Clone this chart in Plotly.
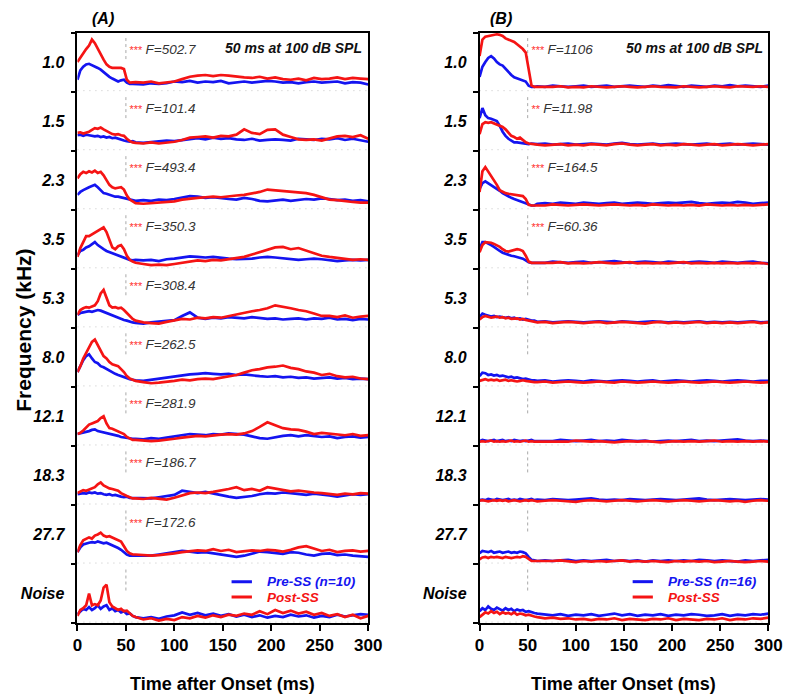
import plotly.graph_objects as go

# ---------------- data ----------------
TIME = [0, 3, 6, 9, 12, 15, 18, 21, 24, 27, 30, 33, 36, 39, 42, 45, 48, 51, 54, 57,
        60, 68, 76, 84, 92, 100, 108, 116, 124, 132, 140, 148, 156, 164, 172, 180,
        188, 196, 204, 212, 220, 228, 236, 244, 252, 260, 268, 276, 284, 292, 300]

ROW_LABELS = ["1.0", "1.5", "2.3", "3.5", "5.3", "8.0", "12.1", "18.3", "27.7", "Noise"]
X_TICKS = [0, 50, 100, 150, 200, 250, 300]

F_A = ["502.7", "101.4", "493.4", "350.3", "308.4", "262.5", "281.9", "186.7", "172.6"]
STARS_A = ["***", "***", "***", "***", "***", "***", "***", "***", "***"]
F_B = ["1106", "11.98", "164.5", "60.36"]
STARS_B = ["***", "**", "***", "***"]

# normalised response (percent of one row height), panel A (n=10)
A_PRE_1 = [20,36,42,46,47,45,42,40,37,33,28,25,22,20,17,19,20,15,13,13,
           13,12,14,13,14,17,16,18,15,17,16,18,14,16,17,15,16,18,17,15,16,14,16,17,15,16,17,14,16,15,12]
A_POST_1 = [50,58,66,72,78,88,82,72,64,54,46,42,40,40,39,40,38,20,15,16,
            16,15,17,14,15,17,21,25,27,28,26,28,27,25,24,23,25,22,24,21,20,22,19,23,21,22,24,21,23,22,21]
A_PRE_2 = [26,27,25,27,26,25,24,25,23,24,22,23,21,22,20,19,17,16,15,16,
           14,13,14,15,17,16,18,20,21,19,22,20,21,19,18,20,17,18,19,18,17,20,19,18,20,19,21,18,20,17,15]
A_POST_2 = [30,31,29,30,32,35,38,37,39,36,33,30,28,27,28,26,25,20,16,14,
            13,12,14,12,13,15,18,22,23,24,22,25,24,27,36,30,28,35,36,27,23,19,18,19,17,21,24,25,23,26,20]
A_PRE_3 = [25,30,33,36,38,40,42,38,32,28,27,25,23,22,22,21,20,19,17,16,
           15,16,15,17,16,18,20,23,22,20,21,19,18,17,20,18,15,14,16,17,15,16,18,17,19,18,16,17,15,16,14]
A_POST_3 = [53,60,64,62,65,63,66,62,64,58,50,42,38,36,37,38,34,24,17,14,
            11,10,11,12,13,14,17,19,20,21,22,21,23,24,25,27,30,34,33,32,31,30,28,25,21,17,16,14,13,12,12]
A_PRE_4 = [23,30,32,36,38,42,45,40,36,33,30,28,26,25,22,20,18,16,15,14,
           15,14,15,13,16,17,19,21,20,19,20,18,17,16,16,17,19,20,19,18,16,15,16,17,16,15,13,14,15,14,15]
A_POST_4 = [20,35,45,55,55,58,62,65,68,70,62,50,36,33,38,40,33,22,15,12,
            10,8,6,7,6,8,10,12,14,13,15,14,16,17,20,24,28,33,36,37,33,35,31,27,22,20,18,17,15,16,15]
A_PRE_5 = [22,25,26,27,28,27,29,30,29,27,25,22,20,18,17,15,13,12,10,9,
           8,7,9,10,12,13,20,26,17,15,17,16,18,17,16,18,17,15,16,14,15,16,14,16,15,17,14,15,13,15,14]
A_POST_5 = [22,30,33,35,34,36,38,45,58,64,50,38,34,35,33,34,30,25,20,15,
            12,9,8,7,10,12,15,14,17,16,18,17,20,22,25,28,30,33,38,36,33,30,28,24,20,20,18,21,17,19,20]
A_PRE_6 = [25,35,45,52,55,48,42,40,35,33,30,28,25,22,20,18,16,15,13,12,
           11,10,12,14,15,17,19,21,22,23,22,21,22,20,21,19,18,17,18,16,17,15,16,14,15,16,14,15,13,14,13]
A_POST_6 = [25,35,48,58,68,76,80,70,60,52,48,42,38,36,35,30,25,18,14,12,
            10,8,6,7,8,10,12,11,13,14,13,15,17,20,24,28,30,33,34,36,32,30,26,24,20,22,18,16,17,14,13]
A_PRE_7 = [20,21,22,24,25,27,28,25,24,23,22,20,19,18,17,15,14,13,12,12,
           12,11,13,12,14,16,18,20,19,18,20,19,21,20,19,16,13,12,15,17,18,16,18,17,15,16,13,15,16,14,15]
A_POST_7 = [20,22,26,32,36,38,40,42,47,50,38,30,29,27,25,22,20,15,12,10,
            10,9,8,9,10,12,14,15,17,16,18,19,20,19,21,25,32,40,35,30,28,27,24,20,22,21,20,18,20,17,18]
A_PRE_8 = [18,19,20,19,21,20,21,19,20,18,17,18,16,17,15,14,13,14,12,12,
           11,12,11,13,15,17,24,22,20,22,19,16,14,12,13,15,18,20,19,21,20,18,17,19,18,16,14,16,18,17,18]
A_POST_8 = [20,23,25,24,26,28,30,35,38,33,30,28,27,25,24,20,17,15,13,11,
            11,10,12,11,9,12,16,20,21,20,22,24,27,30,25,27,24,30,28,26,23,24,22,21,20,18,17,19,18,20,19]
A_PRE_9 = [20,28,33,35,36,37,36,38,37,35,36,34,32,30,27,24,20,16,14,14,
           14,15,14,16,18,20,22,21,19,20,18,16,14,12,14,18,21,20,18,17,20,19,16,14,17,18,15,16,14,13,12]
A_POST_9 = [20,32,40,42,45,43,48,50,53,48,46,47,45,43,40,38,30,22,18,16,
            16,15,14,15,16,18,20,21,23,22,25,22,24,20,21,23,22,24,23,21,24,28,30,26,22,24,20,22,23,21,22]
A_PRE_10 = [15,20,24,22,27,22,25,30,24,28,30,22,25,20,22,18,20,15,16,12,
            10,8,10,7,11,13,18,14,17,13,16,12,15,11,14,10,13,9,12,10,14,11,13,9,12,10,14,11,13,15,14]
A_POST_10 = [12,22,25,30,50,30,32,30,38,60,65,35,28,25,22,24,20,21,16,12,
             10,6,8,4,7,5,10,8,12,9,13,10,14,12,16,14,20,15,22,17,21,16,19,14,17,12,15,10,14,8,12]

# panel B (n=16)
B_PRE_1 = [25,42,50,57,60,56,50,46,44,38,32,28,24,22,20,18,17,10,8,8,
           9,8,10,9,8,9,10,8,9,10,8,9,10,9,8,10,9,11,9,8,10,9,8,10,9,11,9,10,9,8,10]
B_POST_1 = [60,88,93,94,96,97,97,96,94,90,88,86,84,80,76,72,66,35,10,8,
            8,7,8,9,7,8,7,9,8,7,8,9,8,7,8,9,8,8,7,9,8,7,8,9,8,7,9,8,8,9,8]
B_PRE_2 = [55,72,60,55,54,52,50,42,32,25,20,17,14,14,13,12,12,11,12,11,
           11,12,10,11,12,10,11,12,11,10,12,13,11,10,11,12,10,11,12,11,10,11,12,10,11,12,10,11,12,11,10]
B_POST_2 = [28,45,48,47,48,46,45,42,40,36,30,25,23,20,22,18,14,12,11,10,
            10,9,10,11,9,10,9,11,10,9,11,12,10,9,10,11,9,10,9,11,10,9,10,11,9,10,11,10,9,10,11]
B_PRE_3 = [35,45,48,45,42,38,36,32,28,25,22,20,18,16,14,13,10,8,7,7,
           10,11,10,12,11,10,12,11,10,11,12,10,11,12,11,10,11,12,11,12,13,11,10,11,12,11,13,12,10,11,12]
B_POST_3 = [30,65,72,65,58,50,42,33,30,28,27,26,25,24,24,23,18,8,7,7,
            8,7,9,8,7,8,9,8,7,8,9,8,7,8,7,9,8,7,8,7,8,7,9,8,7,8,7,8,7,8,9]
B_PRE_4 = [33,45,45,43,40,37,33,30,27,25,23,22,21,20,18,17,14,11,10,10,
           11,10,12,11,10,11,12,10,11,12,13,11,10,11,12,11,10,12,11,10,11,12,11,10,12,11,10,11,12,10,9]
B_POST_4 = [28,40,45,45,44,42,40,37,33,30,29,30,32,33,32,30,22,12,10,10,
            10,9,10,11,9,10,9,10,11,10,9,10,11,9,10,9,10,9,10,11,9,10,9,10,9,10,9,10,9,10,8]
B_PRE_5 = [18,24,22,20,19,20,18,19,18,17,18,16,17,15,16,14,15,13,12,12,
           10,11,9,10,11,10,9,10,11,10,9,11,10,9,10,11,10,9,10,9,10,11,9,10,9,10,9,10,11,9,10]
B_POST_5 = [14,18,20,19,17,18,19,17,18,16,17,15,16,16,14,15,13,12,11,10,
            9,10,8,9,10,9,8,9,10,8,9,10,9,8,7,9,10,8,9,8,9,10,8,9,8,9,8,9,10,8,9]
B_PRE_6 = [18,24,23,20,21,19,20,18,19,17,16,17,15,16,14,13,14,12,11,11,
           10,11,9,10,11,10,9,11,10,9,10,11,10,9,10,11,9,10,11,10,9,10,11,10,9,10,11,10,9,10,10]
B_POST_6 = [10,12,13,11,12,11,12,10,11,12,10,11,10,9,10,11,10,9,9,8,
            8,9,7,8,9,8,7,8,9,8,7,9,8,7,8,9,8,7,8,9,8,7,8,9,8,7,8,9,8,7,8]
B_PRE_7 = [8,10,9,8,9,10,8,9,10,8,9,8,10,9,8,9,8,9,10,8,
           8,9,8,10,9,8,9,10,8,9,8,10,9,8,9,7,8,9,8,9,10,8,9,8,9,10,11,9,8,9,8]
B_POST_7 = [7,8,7,8,9,7,8,7,8,7,8,9,7,8,7,8,9,7,8,7,
            7,8,7,8,7,9,8,7,8,7,6,7,8,7,8,7,6,7,8,7,8,7,8,9,7,8,7,8,7,8,7]
B_PRE_8 = [8,9,8,10,9,8,10,9,8,9,10,8,9,8,10,9,8,9,10,8,
           9,8,10,9,8,9,10,11,9,8,9,8,10,9,8,9,10,9,8,9,10,11,9,8,9,10,9,8,9,10,9]
B_POST_8 = [7,8,7,6,7,8,7,8,7,8,6,7,8,7,6,7,8,7,8,7,
            6,7,8,7,6,5,7,8,7,6,7,8,7,6,7,8,7,6,7,8,7,6,7,8,7,6,7,5,7,8,7]
B_PRE_9 = [18,22,21,20,22,19,20,21,19,20,21,19,20,19,21,20,18,12,7,6,
           5,6,5,6,7,5,6,5,6,7,5,6,5,6,4,6,5,6,5,6,5,7,6,5,6,5,4,6,5,6,7]
B_POST_9 = [8,11,12,10,12,11,12,11,10,12,11,10,11,12,11,13,12,8,5,5,
            5,4,5,6,4,3,5,4,5,4,5,6,4,5,4,5,4,3,5,4,5,4,5,3,4,5,4,3,4,5,4]
B_PRE_10 = [20,25,22,28,24,22,26,23,21,25,22,24,20,23,21,22,19,20,18,17,
            16,14,13,15,12,14,13,15,12,14,16,13,15,12,14,13,15,12,14,13,15,14,12,13,15,12,14,13,15,14,16]
B_POST_10 = [10,14,18,16,20,17,19,15,18,16,17,15,18,14,16,15,13,14,12,11,
             10,8,9,7,8,6,7,5,7,6,8,5,7,6,5,7,6,8,5,7,6,5,7,6,8,5,7,6,8,7,9]

A_PRE = [A_PRE_1, A_PRE_2, A_PRE_3, A_PRE_4, A_PRE_5, A_PRE_6, A_PRE_7, A_PRE_8, A_PRE_9, A_PRE_10]
A_POST = [A_POST_1, A_POST_2, A_POST_3, A_POST_4, A_POST_5, A_POST_6, A_POST_7, A_POST_8, A_POST_9, A_POST_10]
B_PRE = [B_PRE_1, B_PRE_2, B_PRE_3, B_PRE_4, B_PRE_5, B_PRE_6, B_PRE_7, B_PRE_8, B_PRE_9, B_PRE_10]
B_POST = [B_POST_1, B_POST_2, B_POST_3, B_POST_4, B_POST_5, B_POST_6, B_POST_7, B_POST_8, B_POST_9, B_POST_10]

# ---------------- style / layout ----------------
BLUE = "#1414f0"
RED = "#f51414"
ARIAL = "Liberation Sans, Arial, sans-serif"
NROW = len(ROW_LABELS)

# the page has an 8px body margin: figure is 792x691 drawn at (8, 8)
W, H, M = 792, 691, 8


def px(x):
    return (x - M) / W


def py(y):
    return 1 - (y - M) / H


fig = go.Figure()

panels = [("x", "y", A_PRE, A_POST, F_A, STARS_A, "Pre-SS (n=10)"),
          ("x2", "y2", B_PRE, B_POST, F_B, STARS_B, "Pre-SS (n=16)")]

shapes = []
annotations = []

for xa, ya, pre, post, fvals, stars, pre_name in panels:
    for k in range(NROW):
        off = NROW - 1 - k
        fig.add_trace(go.Scatter(x=TIME, y=[off + v / 100 for v in pre[k]], mode="lines",
                                 line=dict(color=BLUE, width=2.7), xaxis=xa, yaxis=ya,
                                 showlegend=False, hoverinfo="skip"))
        fig.add_trace(go.Scatter(x=TIME, y=[off + v / 100 for v in post[k]], mode="lines",
                                 line=dict(color=RED, width=2.7), xaxis=xa, yaxis=ya,
                                 showlegend=False, hoverinfo="skip"))
        shapes.append(dict(type="line", xref=xa, yref=ya, x0=0, x1=300, y0=off + 0.015, y1=off + 0.015,
                           line=dict(color="#c4c4c4", width=1, dash="1px,5px"), layer="below"))
        shapes.append(dict(type="line", xref=xa, yref=ya, x0=50, x1=50, y0=off + 0.55, y1=off + 0.95,
                           line=dict(color="#a8a8a8", width=1, dash="dot"), layer="below"))
    for k, (fv, st) in enumerate(zip(fvals, stars)):
        off = NROW - 1 - k
        annotations.append(dict(xref=xa, yref=ya, x=51, y=off + 0.71, xanchor="left", yanchor="middle",
                                showarrow=False,
                                text=f"<span style='color:#ff3030;font-size:11px'>{st}</span> F={fv}",
                                font=dict(family=ARIAL, size=13.5, color="#333333", style="italic")))
    annotations.append(dict(xref=xa, yref=ya, x=296, y=NROW - 0.26, xanchor="right", yanchor="middle",
                            showarrow=False, text="50 ms at 100 dB SPL",
                            font=dict(family=ARIAL, size=14, color="#111111", weight="bold", style="italic")))
    for txt, col, yy in [(pre_name, BLUE, 0.70), ("Post-SS", RED, 0.44)]:
        shapes.append(dict(type="line", xref=xa, yref=ya, x0=159, x1=180, y0=yy, y1=yy,
                           line=dict(color=col, width=3)))
        annotations.append(dict(xref=xa, yref=ya, x=194, y=yy, xanchor="left", yanchor="middle",
                                showarrow=False, text=txt,
                                font=dict(family=ARIAL, size=13.5, color=col, weight="bold", style="italic")))

xdoms = [[px(74), px(372)], [px(486), px(782)]]
ydom = [py(623), py(32.5)]

axis_common = dict(showline=True, linecolor="black", linewidth=1.6, mirror=True,
                   showgrid=False, zeroline=False)

for i, (xd, name, lx) in enumerate(zip(xdoms, ["(A)", "(B)"], [100, 508])):
    sfx = "" if i == 0 else "2"
    fig.update_layout(**{
        "xaxis" + sfx: dict(domain=xd, range=[0, 300], tickvals=X_TICKS, ticks="outside", ticklen=6,
                            tickwidth=1.5, tickcolor="black", anchor="y" + sfx,
                            tickfont=dict(family=ARIAL, size=17, color="black", weight="bold"),
                            **axis_common),
        "yaxis" + sfx: dict(domain=ydom, range=[0, NROW], anchor="x" + sfx,
                            tickvals=[NROW - 1 - k + 0.5 for k in range(NROW)], ticktext=ROW_LABELS,
                            ticks="", ticklabelstandoff=8,
                            tickfont=dict(family=ARIAL, size=16, color="black", weight="bold", style="italic"),
                            minor=dict(tickmode="linear", tick0=0, dtick=1, ticks="outside", ticklen=5,
                                       tickwidth=1.5, tickcolor="black"),
                            **axis_common),
    })
    annotations.append(dict(xref="paper", yref="paper", x=(xd[0] + xd[1]) / 2, y=py(684),
                            xanchor="center", yanchor="middle", showarrow=False,
                            text="Time after Onset (ms)",
                            font=dict(family=ARIAL, size=18, color="black", weight="bold")))
    annotations.append(dict(xref="paper", yref="paper", x=px(lx), y=py(18),
                            xanchor="center", yanchor="middle", showarrow=False, text=name,
                            font=dict(family=ARIAL, size=16, color="black", weight="bold", style="italic")))

annotations.append(dict(xref="paper", yref="paper", x=px(18), y=py(330),
                        xanchor="center", yanchor="middle", showarrow=False, textangle=-90,
                        text="Frequency (kHz)",
                        font=dict(family=ARIAL, size=21, color="black", weight="bold")))

fig.update_layout(width=W, height=H, margin=dict(l=0, r=0, t=0, b=0),
                  paper_bgcolor="white", plot_bgcolor="white",
                  shapes=shapes, annotations=annotations, showlegend=False)

fig.write_html("out.html")
